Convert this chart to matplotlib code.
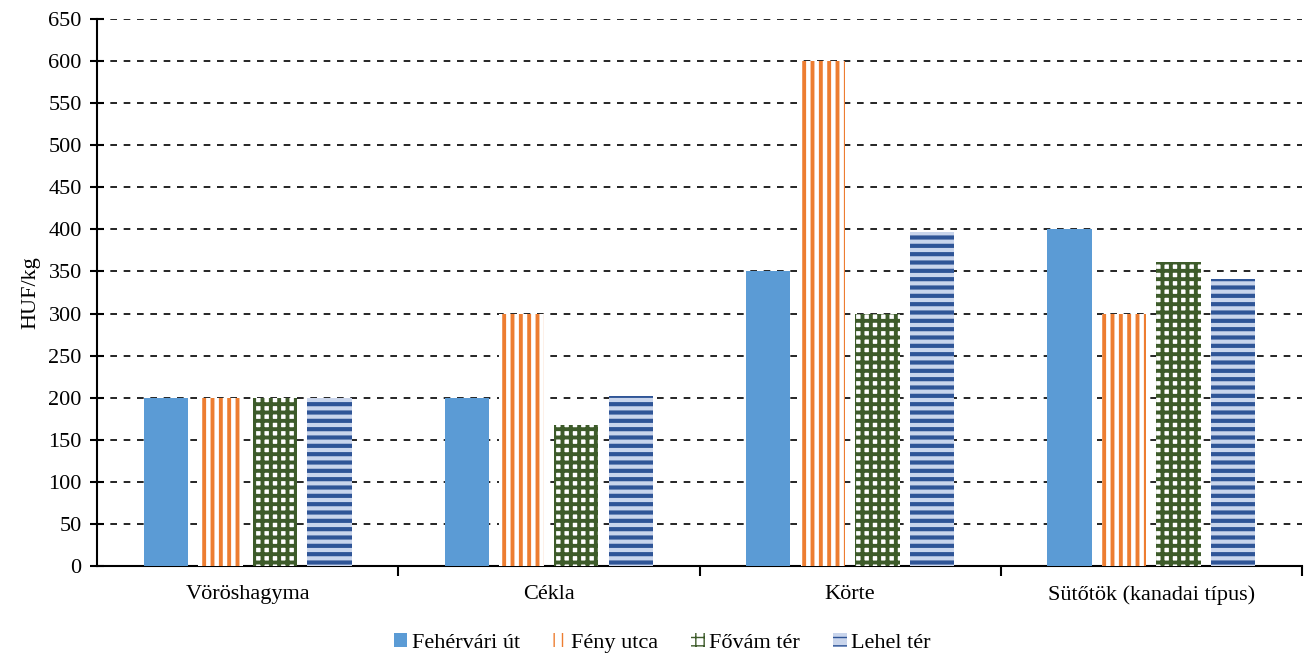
import numpy as np
import matplotlib
matplotlib.use("Agg")
import matplotlib.pyplot as plt

plt.rcParams["font.family"] = ["Liberation Serif", "DejaVu Serif"]

categories = ["Vöröshagyma", "Cékla", "Körte", "Sütőtök (kanadai típus)"]
series = ["Fehérvári út", "Fény utca", "Fővám tér", "Lehel tér"]
fehervari = [200, 200, 350, 400]
feny = [200, 300, 600, 300]
fovam = [200, 168, 300, 361]
lehel = [200, 202, 397, 341]

# face, hatch, hatch colour, hatch linewidth
styles = [("#5b9bd5", None, "#5b9bd5", 1.0),
          ("white", "||", "#ed7d31", 2.8),
          ("white", "++", "#3d5b2a", 2.8),
          ("#c9d5ec", "--", "#2f5597", 3.0)]

fig = plt.figure(figsize=(13.08, 6.55), dpi=100)
ax = fig.add_axes([97/1308, 1-566/655, (1302-97)/1308, (566-19)/655])

x = np.arange(len(categories))
step, w = 0.181, 0.147
for i, (vals, (fc, h, hc, hlw)) in enumerate(zip([fehervari, feny, fovam, lehel], styles)):
    with plt.rc_context({"hatch.linewidth": hlw}):
        bars = ax.bar(x + (i-1.5)*step, vals, w, color=fc, hatch=h, edgecolor=hc,
                      linewidth=0, label=series[i], zorder=3)
    for b in bars:
        if hasattr(b, "set_hatch_linewidth"):
            b.set_hatch_linewidth(hlw)

ax.set_ylim(0, 650)
ax.set_yticks(range(0, 651, 50))
ax.set_xlim(-0.5, 3.5)
ax.yaxis.grid(True, color="black", linestyle=(0, (4, 4)), linewidth=1.2, zorder=0)
ax.set_axisbelow(True)
for s in ["top", "right"]:
    ax.spines[s].set_visible(False)
ax.spines["left"].set_linewidth(1.5)
ax.spines["bottom"].set_linewidth(1.5)
ax.tick_params(axis="y", direction="inout", length=10, width=1.5, labelsize=16, pad=6)
ax.set_xticks(x)
ax.set_xticklabels(categories, fontsize=16)
ax.tick_params(axis="x", length=0, pad=14)
ax.set_xticks([0.5, 1.5, 2.5, 3.5], minor=True)
ax.tick_params(axis="x", which="minor", direction="out", length=7, width=1.5)
ax.set_ylabel("HUF/kg", fontsize=16, labelpad=6)

ax.legend(loc="center", bbox_to_anchor=(0.469, -0.141), ncol=4, frameon=False,
          fontsize=16, handlelength=0.6, handleheight=0.6, handletextpad=0.2,
          columnspacing=1.5, borderpad=0)

fig.savefig("out.png", dpi=100)
